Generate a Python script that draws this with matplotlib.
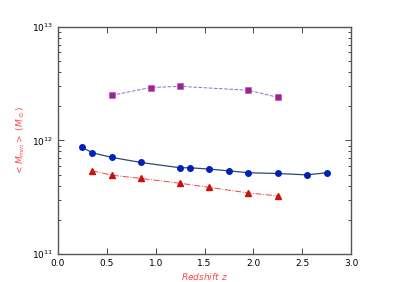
import matplotlib
matplotlib.use("Agg")
import matplotlib.pyplot as plt

# blue circles
z_blue = [0.25, 0.35, 0.55, 0.85, 1.25, 1.35, 1.55, 1.75, 1.95, 2.25, 2.55, 2.75]
m_blue = [8.7e11, 7.8e11, 7.1e11, 6.4e11, 5.75e11, 5.75e11, 5.6e11, 5.4e11, 5.2e11, 5.12e11, 4.98e11, 5.2e11]

# red triangles
z_red = [0.35, 0.55, 0.85, 1.25, 1.55, 1.95, 2.25]
m_red = [5.4e11, 4.95e11, 4.63e11, 4.2e11, 3.86e11, 3.45e11, 3.25e11]

# purple squares
z_purple = [0.55, 0.95, 1.25, 1.95, 2.25]
m_purple = [2.5e12, 2.93e12, 3.0e12, 2.77e12, 2.4e12]

fig = plt.figure(figsize=(3.99, 2.82), dpi=100)
ax = fig.add_axes([0.1454, 0.0993, 0.7343, 0.805])

ax.plot(z_purple, m_purple, ls="--", lw=0.7, color="#9966cc", marker="s", ms=4,
        mfc="#a0209a", mec="#b060b0", mew=0.5)
ax.plot(z_blue, m_blue, ls="-", lw=0.9, color="#334477", marker="o", ms=4,
        mfc="#0022bb", mec="#0022bb")
ax.plot(z_red, m_red, ls="-.", lw=0.7, color="#ee4444", marker="^", ms=4,
        mfc="#cc1111", mec="#cc1111")

ax.set_yscale("log")
ax.set_xlim(0.0, 3.0)
ax.set_ylim(1e11, 1e13)
ax.set_xticks([0.0, 0.5, 1.0, 1.5, 2.0, 2.5, 3.0])

ax.tick_params(which="both", direction="in", top=True, right=True, labelsize=6.5)
ax.tick_params(which="major", length=4, width=0.5)
ax.tick_params(which="minor", length=2, width=0.5)
for s in ax.spines.values():
    s.set_linewidth(1.0)
    s.set_color("#555555")

ax.set_xlabel(r"$Redshift\ z$", color="#ff4444", fontsize=6.5, labelpad=2)
ax.set_ylabel(r"$<M_{min}>\ (M_\odot)$", color="#ff4444", fontsize=6.5, labelpad=4)

fig.savefig("out.png", dpi=100, facecolor="white")
